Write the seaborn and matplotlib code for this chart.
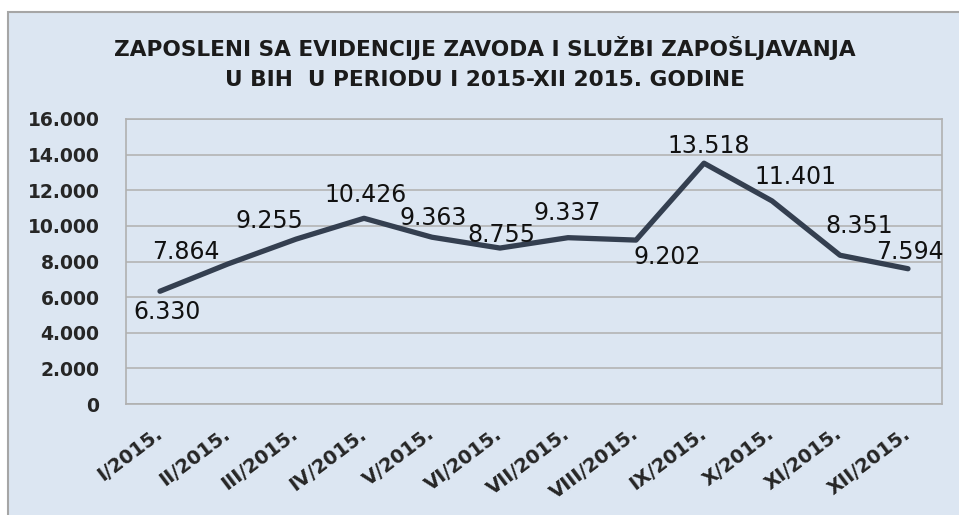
import matplotlib
matplotlib.use("Agg")
import matplotlib.pyplot as plt
import matplotlib.patches as patches
import pandas as pd
import seaborn as sns

# Data
months = ["I/2015.", "II/2015.", "III/2015.", "IV/2015.", "V/2015.", "VI/2015.",
          "VII/2015.", "VIII/2015.", "IX/2015.", "X/2015.", "XI/2015.", "XII/2015."]
employed = [6330, 7864, 9255, 10426, 9363, 8755, 9337, 9202, 13518, 11401, 8351, 7594]
y_ticks = [0, 2000, 4000, 6000, 8000, 10000, 12000, 14000, 16000]

title = ("ZAPOSLENI SA EVIDENCIJE ZAVODA I SLUŽBI ZAPOŠLJAVANJA\n"
         "U BIH  U PERIODU I 2015-XII 2015. GODINE")

# hand placed data labels (offset in pixels from each point)
label_offsets = [(7, -21), (-42, 12), (-27, 18), (2, 23), (1, 19), (1, 13),
                 (-1, 25), (31, -17), (5, 17), (23, 24), (19, 29), (2, 17)]


def dotted(v):
    return f"{v:,.0f}".replace(",", ".")


sns.set_style("white")
plt.rcParams["font.family"] = ["DejaVu Sans"]

bg = "#dce6f2"
W, H = 959, 515
fig = plt.figure(figsize=(W / 100, H / 100), dpi=100)
fig.patch.set_facecolor("white")

# outer chart frame
frame = patches.Rectangle((8 / W, -0.05), 1.0, 1 - 12 / H + 0.05,
                          transform=fig.transFigure, facecolor=bg,
                          edgecolor="#a6a6a6", linewidth=1.5, zorder=-10)
fig.patches.append(frame)

ax = fig.add_axes([126 / W, 111 / H, 816 / W, 285 / H])
ax.set_zorder(1)
ax.set_facecolor(bg)

df = pd.DataFrame({"month": months, "employed": employed})
sns.lineplot(data=df, x="month", y="employed", sort=False, color="#343f50",
             linewidth=3.8, ax=ax)
ax.lines[0].set_solid_capstyle("round")

for i, (v, (dx, dy)) in enumerate(zip(employed, label_offsets)):
    ax.annotate(dotted(v), xy=(i, v), xytext=(dx, dy), textcoords="offset pixels",
                ha="center", va="center", fontsize=17, color="#111111")

ax.set_xlim(-0.5, len(months) - 0.5)
ax.set_ylim(0, 16000)
ax.set_yticks(y_ticks)
ax.set_yticklabels([dotted(t) for t in y_ticks], fontsize=13.5, fontweight="bold")
ax.set_xticks(range(len(months)))
ax.set_xticklabels(months, fontsize=14, fontweight="bold", rotation=37,
                   ha="right", va="center", rotation_mode="anchor")
ax.tick_params(axis="y", length=0, pad=19)
ax.tick_params(axis="x", length=0, pad=20)
ax.set_xlabel("")
ax.set_ylabel("")

ax.yaxis.grid(True, color="#b4b4b4", linewidth=1.2)
ax.set_axisbelow(True)
for s in ax.spines.values():
    s.set_color("#b0b0b0")
    s.set_linewidth(1.2)

fig.text(0.506, 1 - 63 / H, title, ha="center", va="center", fontsize=15.6,
         fontweight="bold", color="#1b1b1b", linespacing=1.62)

fig.savefig("out.png", dpi=100)
